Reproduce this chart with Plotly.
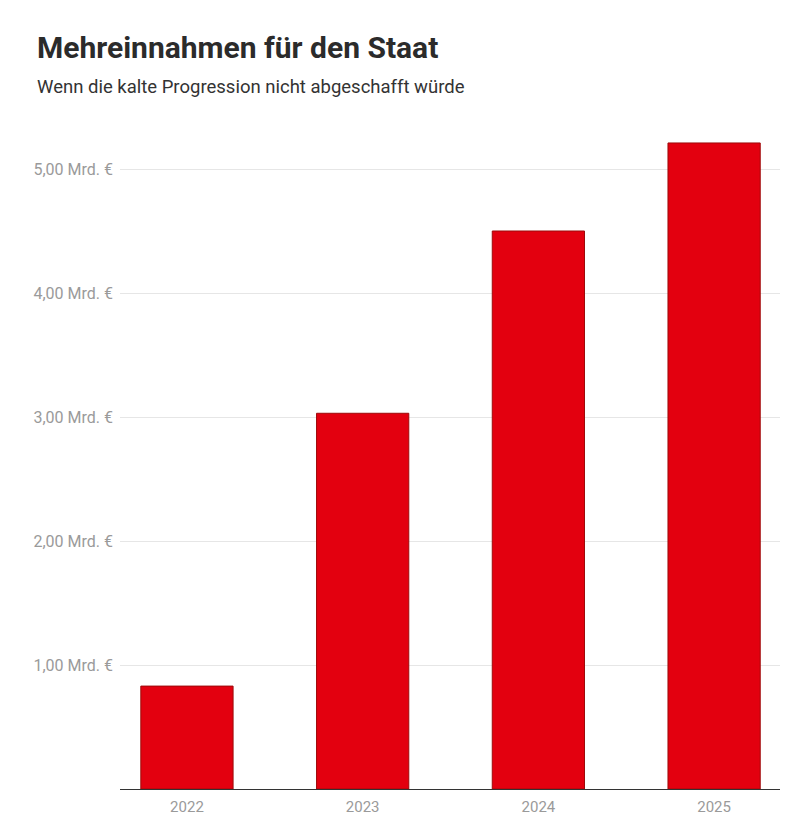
import plotly.graph_objects as go

years = ["2022", "2023", "2024", "2025"]
values = [0.83, 3.03, 4.50, 5.21]
tick_vals = [1, 2, 3, 4, 5]
tick_text = ["1,00 Mrd. €", "2,00 Mrd. €", "3,00 Mrd. €", "4,00 Mrd. €", "5,00 Mrd. €"]
title = "Mehreinnahmen für den Staat"
subtitle = "Wenn die kalte Progression nicht abgeschafft würde"

fig = go.Figure(go.Bar(
    x=list(range(len(years))), y=values,
    marker=dict(color="#E3000F", line=dict(color="#9e0a0a", width=1)),
    width=0.525, hoverinfo="skip",
))

fig.update_layout(
    width=800, height=839,
    margin=dict(l=120, r=20, t=120, b=50),
    paper_bgcolor="white", plot_bgcolor="white",
    showlegend=False,
    font=dict(family="Roboto", color="#999999"),
    xaxis=dict(
        range=[-0.381, 3.375], tickvals=list(range(len(years))), ticktext=years,
        showgrid=False, zeroline=False, showline=True, linecolor="#333333", linewidth=1.2,
        ticks="outside", ticklen=4, tickcolor="rgba(0,0,0,0)",
        tickfont=dict(size=15, color="#9a9a9a"), fixedrange=True,
    ),
    yaxis=dict(
        range=[0, 669 / 124], tickvals=tick_vals, ticktext=tick_text,
        showgrid=True, gridcolor="#e6e6e6", gridwidth=1, zeroline=False,
        ticks="", ticklabelstandoff=6, tickfont=dict(size=16, color="#9a9a9a"), fixedrange=True,
    ),
    annotations=[
        dict(text="<b>" + title + "</b>", xref="paper", yref="paper",
             x=(35 - 120) / 660, y=1 + (120 - 47) / 669, xanchor="left", yanchor="middle",
             showarrow=False, font=dict(family="Roboto", size=30, color="#2b2b2b")),
        dict(text=subtitle, xref="paper", yref="paper",
             x=(35 - 120) / 660, y=1 + (120 - 87) / 669, xanchor="left", yanchor="middle",
             showarrow=False, font=dict(family="Roboto", size=18.5, color="#333333")),
    ],
)

fig.write_html("out.html")
